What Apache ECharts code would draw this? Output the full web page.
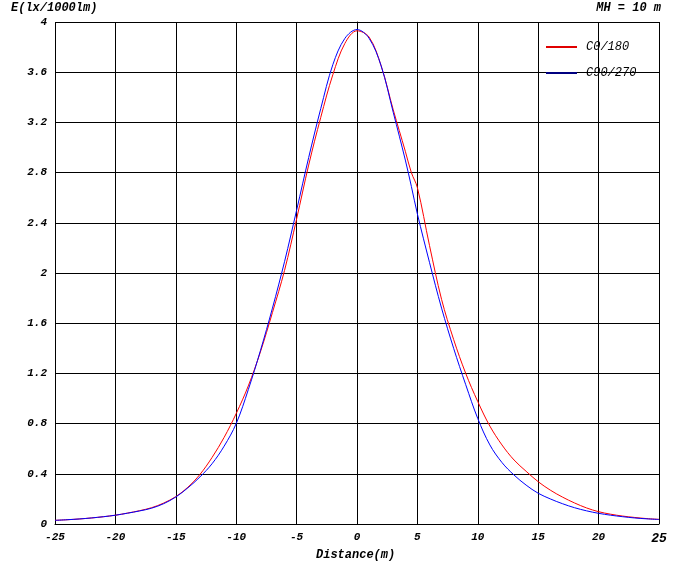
<!DOCTYPE html>
<html>
<head>
<meta charset="utf-8">
<script src="https://cdn.jsdelivr.net/npm/echarts@6/dist/echarts.min.js"></script>
<style>
html,body{margin:0;padding:0;background:#fff;}
#chart{width:683px;height:566px;}
</style>
</head>
<body>
<div id="chart"></div>
<script>
// Distance (m)
var distance = [-25,-24,-23,-22,-21,-20,-19,-18,-17,-16,-15,-14,-13,-12,-11,-10,-9,-8,-7,-6,-5,-4,-3,-2,-1,0,1,2,3,4,4.5,5,6,7,8,9,10,11,12,13,14,15,16,17,18,19,20,21,22,23,24,25];
// C0/180 illuminance
var c0_180 = [0.029,0.034,0.040,0.048,0.058,0.070,0.087,0.106,0.130,0.167,0.218,0.293,0.395,0.530,0.690,0.880,1.10,1.37,1.685,2.02,2.43,2.86,3.24,3.58,3.83,3.93,3.88,3.65,3.30,2.97,2.80,2.68,2.22,1.79,1.47,1.20,0.975,0.78,0.63,0.51,0.42,0.337,0.27,0.215,0.168,0.128,0.098,0.078,0.063,0.052,0.043,0.037];
// C90/270 illuminance
var c90_270 = [0.029,0.034,0.040,0.048,0.058,0.070,0.086,0.104,0.126,0.162,0.215,0.288,0.375,0.480,0.620,0.800,1.07,1.38,1.72,2.09,2.50,2.92,3.31,3.66,3.87,3.94,3.87,3.65,3.28,2.90,2.69,2.47,2.085,1.72,1.40,1.11,0.84,0.63,0.49,0.39,0.31,0.245,0.200,0.162,0.130,0.105,0.085,0.070,0.058,0.048,0.041,0.036];
var seriesNames = ['C0/180','C90/270'];
var yTitle = 'E(lx/1000lm)';
var xTitle = 'Distance(m)';
var noteText = 'MH = 10 m';

function pairs(xs, ys){ return xs.map(function(x,i){ return [x, ys[i]]; }); }

var FONT = 'Liberation Mono';
var chart = echarts.init(document.getElementById('chart'));
chart.setOption({
  animation:false,
  backgroundColor:'#ffffff',
  grid:{left:55, right:24, top:22, bottom:42},
  xAxis:{
    type:'value', min:-25, max:25, interval:5,
    axisLine:{show:true, onZero:false, lineStyle:{color:'#000', width:1}},
    axisTick:{show:false},
    splitLine:{show:true, lineStyle:{color:'#000', width:1}},
    axisLabel:{
      margin:8, color:'#000', fontFamily:FONT, fontStyle:'italic', fontWeight:'bold', fontSize:11,
      formatter:function(v){ return v===25 ? '{b|25}' : String(v); },
      rich:{b:{fontFamily:FONT, fontStyle:'italic', fontWeight:'bold', fontSize:13, color:'#000', padding:[0,0,2,0]}}
    }
  },
  yAxis:{
    type:'value', min:0, max:4, interval:0.4,
    axisLine:{show:true, lineStyle:{color:'#000', width:1}},
    axisTick:{show:false},
    splitLine:{show:true, lineStyle:{color:'#000', width:1}},
    axisLabel:{margin:8, color:'#000', fontFamily:FONT, fontStyle:'italic', fontWeight:'bold', fontSize:11,
      formatter:function(v){ return String(Math.round(v*10)/10); }}
  },
  legend:{
    orient:'vertical', left:546, top:41, padding:0, itemWidth:31, itemHeight:2, itemGap:14,
    icon:'rect',
    textStyle:{fontFamily:FONT, fontStyle:'italic', fontSize:12, color:'#000', padding:[0,0,0,4]},
    data:[
      {name:seriesNames[0], itemStyle:{color:'#e00000'}},
      {name:seriesNames[1], itemStyle:{color:'#000080'}}
    ]
  },
  graphic:[
    {type:'text', left:11, top:2, style:{text:yTitle, font:'italic bold 12px "Liberation Mono"', fill:'#000'}},
    {type:'text', right:22, top:2, style:{text:noteText, font:'italic bold 12px "Liberation Mono"', fill:'#000'}},
    {type:'text', left:316, top:549, style:{text:xTitle, font:'italic bold 12px "Liberation Mono"', fill:'#000'}}
  ],
  series:[
    {name:seriesNames[0], type:'line', data:pairs(distance, c0_180), smooth:0.35, showSymbol:false,
     lineStyle:{color:'#ff0000', width:1}, itemStyle:{color:'#ff0000'}, z:3},
    {name:seriesNames[1], type:'line', data:pairs(distance, c90_270), smooth:0.35, showSymbol:false,
     lineStyle:{color:'#0000ff', width:1}, itemStyle:{color:'#0000ff'}, z:4}
  ]
});
</script>
</body>
</html>
